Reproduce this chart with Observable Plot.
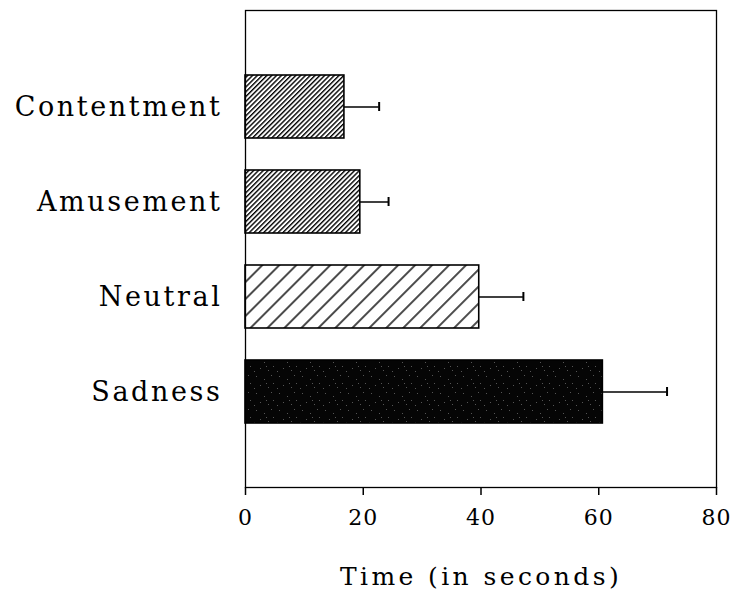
<!DOCTYPE html>
<html><head><meta charset="utf-8">
<script src="https://cdn.jsdelivr.net/npm/d3@7"></script>
<script src="https://cdn.jsdelivr.net/npm/@observablehq/plot@0.6"></script>
<style>body{margin:0;background:#fff} #chart{width:733px;height:589px}</style>
</head><body><div id="chart"></div>
<script>
const categories = ["Contentment", "Amusement", "Neutral", "Sadness"];
const means = [16.8, 19.5, 39.7, 60.7];
const errors = [5.9, 4.8, 7.5, 10.9];
const xTicks = [0, 20, 40, 60, 80];
const xTitle = "Time (in seconds)";

const data = categories.map((c, i) => ({category: c, mean: means[i], err: errors[i]}));
const serif = "DejaVu Serif";

const svg = Plot.plot({
  width: 733,
  height: 589,
  marginLeft: 245,
  marginRight: 17,
  marginTop: 10,
  marginBottom: 102,
  style: {background: "#fff", color: "#000"},
  x: {domain: [0, 80]},
  y: {type: "band", domain: categories, paddingInner: 0.34, paddingOuter: 0.68},
  color: {type: "ordinal", domain: categories,
          range: ["url(#hatchDense)", "url(#hatchDense)", "url(#hatchSparse)", "url(#speckle)"]},
  marks: [
    Plot.barX(data, {y: "category", x: "mean", fill: "category", stroke: "#000", strokeWidth: 1.6}),
    Plot.ruleY(data, {y: "category", x1: "mean", x2: d => d.mean + d.err, stroke: "#000", strokeWidth: 1.5}),
    Plot.tickX(data, {y: "category", x: d => d.mean + d.err, stroke: "#000", strokeWidth: 2, insetTop: 27, insetBottom: 27}),
    Plot.frame({stroke: "#000", strokeWidth: 1.3}),
    Plot.axisX({ticks: xTicks, tickSize: 8, tickPadding: 14, tickFormat: d => String(d),
                fontSize: 22, fontFamily: serif, label: null, strokeWidth: 1.5}),
    Plot.axisY({tickSize: 0, tickPadding: 23, fontSize: 27, fontFamily: serif, label: null}),
    Plot.text([xTitle], {text: d => d, frameAnchor: "bottom", dy: 89, lineAnchor: "middle",
                         fontSize: 25, fontFamily: serif, fill: "#000"})
  ]
});

const root = d3.select(svg);
const defs = root.insert("defs", ":first-child");
const dense = defs.append("pattern").attr("id", "hatchDense").attr("patternUnits", "userSpaceOnUse")
  .attr("width", 3.4).attr("height", 10).attr("patternTransform", "rotate(45)");
dense.append("rect").attr("width", 3.4).attr("height", 10).attr("fill", "#fff");
dense.append("line").attr("x1", 0.7).attr("x2", 0.7).attr("y1", 0).attr("y2", 10)
  .attr("stroke", "#000").attr("stroke-width", 1.4);
const sparse = defs.append("pattern").attr("id", "hatchSparse").attr("patternUnits", "userSpaceOnUse")
  .attr("width", 12).attr("height", 10).attr("patternTransform", "rotate(45)");
sparse.append("rect").attr("width", 12).attr("height", 10).attr("fill", "#fff");
sparse.append("line").attr("x1", 1).attr("x2", 1).attr("y1", 0).attr("y2", 10)
  .attr("stroke", "#000").attr("stroke-width", 1.4);
const speck = defs.append("pattern").attr("id", "speckle").attr("patternUnits", "userSpaceOnUse")
  .attr("width", 23).attr("height", 17);
speck.append("rect").attr("width", 23).attr("height", 17).attr("fill", "#050505");
[[3,2],[11,5],[18,1],[7,11],[15,13],[20,9],[1,14],[13,9]].forEach(([x, y]) =>
  speck.append("rect").attr("x", x).attr("y", y).attr("width", 1).attr("height", 1).attr("fill", "#555"));

root.selectAll('[aria-label="y-axis tick label"] text').style("letter-spacing", "2.6px");
root.selectAll('[aria-label="x-axis tick label"] text').style("letter-spacing", "1px");
root.selectAll('[aria-label="text"] text').style("letter-spacing", "3.4px");

document.getElementById("chart").appendChild(svg);
</script>
</body></html>
